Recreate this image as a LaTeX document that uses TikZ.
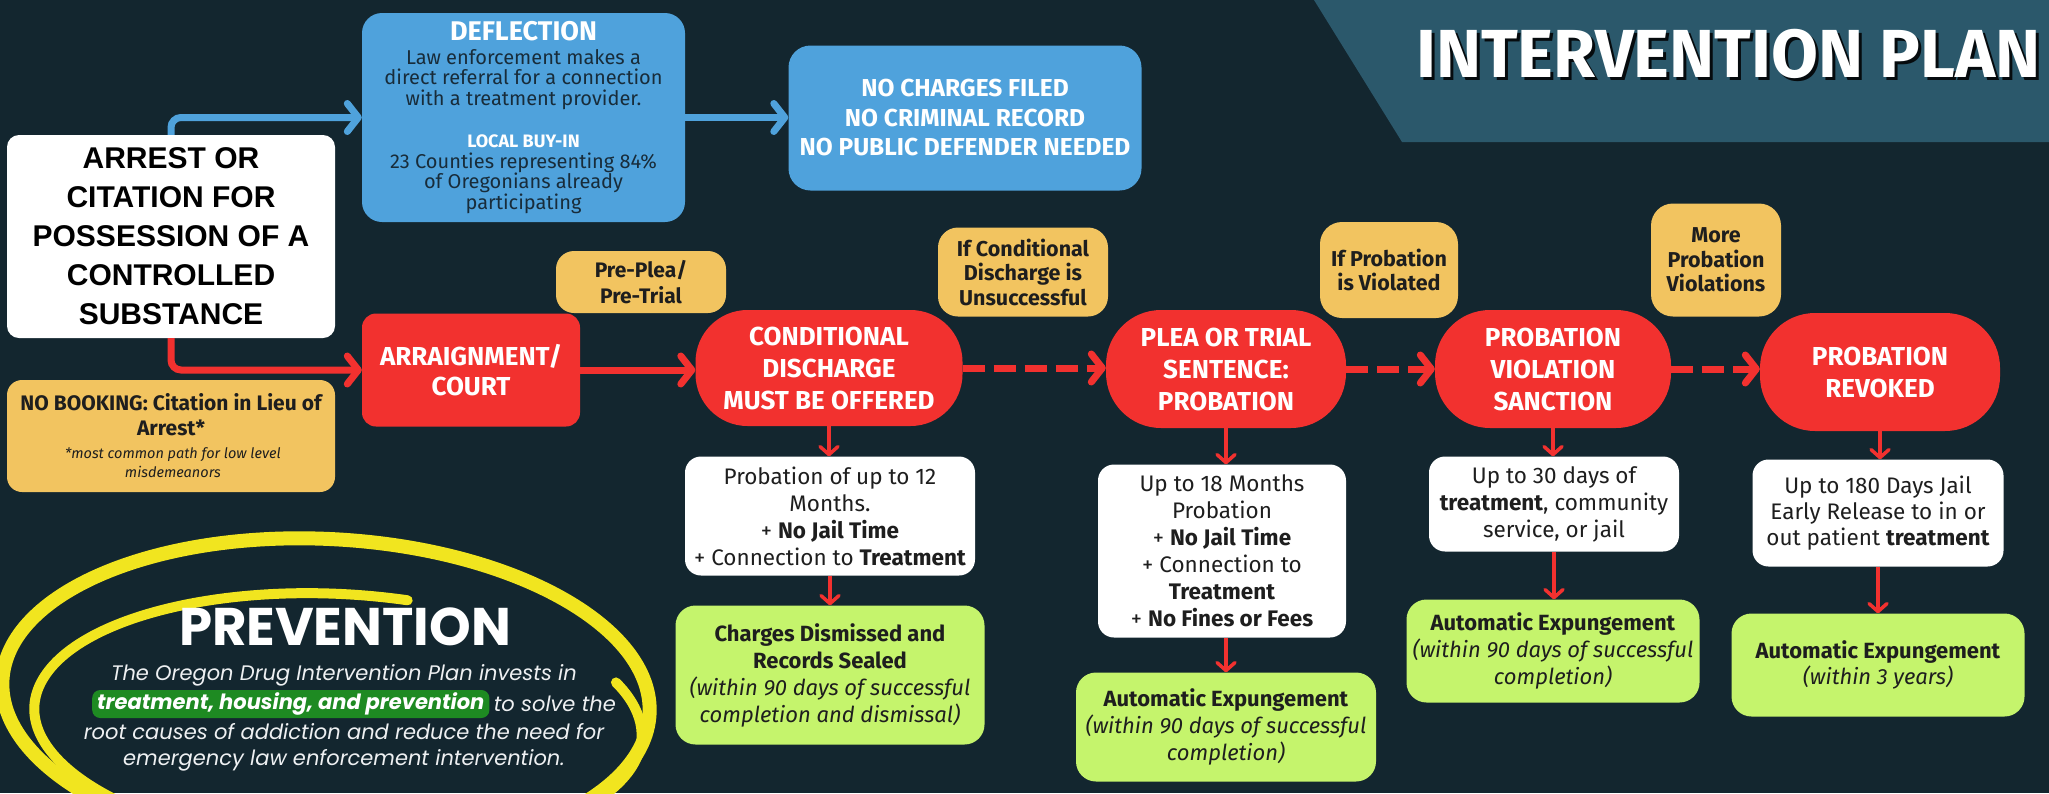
\documentclass[tikz,border=0pt]{standalone}
\usepackage{fontspec}
\setmainfont{Fira Sans}
\newfontfamily\popfont{Poppins}
\newfontfamily\arialfont{Liberation Sans}
\usetikzlibrary{arrows.meta,calc}
\definecolor{bg}{HTML}{13262F}
\definecolor{banner}{HTML}{2B586B}
\definecolor{bluebox}{HTML}{4FA2DC}
\definecolor{redbox}{HTML}{F2312F}
\definecolor{yelbox}{HTML}{F2C460}
\definecolor{grnbox}{HTML}{C5F46C}
\definecolor{hlgreen}{HTML}{1E8A22}
\definecolor{ringyel}{HTML}{F1E51F}
\definecolor{darktext}{HTML}{1E1E1E}
\definecolor{bluetext}{HTML}{182C3A}
\definecolor{lighttext}{HTML}{EEF0F2}
\newcommand\fsz[2]{\fontsize{#1}{#2}\selectfont}
\begin{document}
\begin{tikzpicture}[x=1pt,y=-1pt,
  box/.style={inner sep=0pt, align=center, anchor=center},
  whitebox/.style={box, fill=white, rounded corners=16pt, text=darktext, font=\fsz{22.5}{27}},
  greenbox/.style={box, fill=grnbox, rounded corners=20pt, text=darktext, font=\fsz{22}{27}},
  yellowbox/.style={box, fill=yelbox, rounded corners=20pt, text=darktext, font=\bfseries\fsz{21.5}{24.5}},
  redbox/.style={box, fill=redbox, text=white, font=\bfseries\fsz{26}{32}},
  bluenode/.style={box, fill=bluebox, rounded corners=20pt},
  bluearrow/.style={draw=bluebox, line width=7pt, rounded corners=10pt, -{Straight Barb[length=11pt,width=28pt,round]}},
  redarrow/.style={draw=redbox, line width=7pt, rounded corners=10pt, -{Straight Barb[length=11pt,width=28pt,round]}},
  reddash/.style={redarrow, dash pattern=on 22pt off 9pt},
  redsmall/.style={draw=redbox, line width=3.5pt, -{Straight Barb[length=8pt,width=18pt,round]}},
  ring/.style={draw=ringyel, line cap=round}
]
\fill[bg] (0,0) rectangle (2049,793);
\useasboundingbox (0,0) rectangle (2049,793);

% banner
\fill[banner] (1314,0) -- (2049,0) -- (2049,142) -- (1402,142) -- cycle;
\node[inner sep=0pt, anchor=west, text=black!70!bg, font=\bfseries\fsz{68}{72}] (titleshadow) at (1419,57) {INTERVENTION PLAN};
\node[inner sep=0pt, anchor=west, text=white, font=\bfseries\fsz{68}{72}] (title) at (1416,54) {INTERVENTION PLAN};

% prevention ring
\draw[ring, line width=14pt, rotate around={-3:(326,697)}] (326,697) ellipse [x radius=324, y radius=158];
\draw[ring, line width=10pt, rotate around={-3:(338,722)}] (338,722) ++(282:304 and 128) arc[start angle=282, end angle=-25, x radius=304, y radius=128];

% left column
\node[box, fill=white, rounded corners=12pt, minimum width=328pt, minimum height=203pt,
      text=black, font=\arialfont\bfseries\fsz{30}{39}] (arrest) at (171,236.5)
  {ARREST OR\\CITATION FOR\\POSSESSION OF A\\CONTROLLED\\SUBSTANCE};

\node[box, fill=yelbox, rounded corners=15pt, minimum width=328pt, minimum height=112pt,
      text=darktext, font=\bfseries\fsz{21}{25}] (nobook) at (171,436)
  {NO BOOKING: Citation in Lieu of\\ Arrest*\\[-2pt]
   \mdseries\itshape\fsz{14.5}{19} *most common path for low level\\[-6pt]
   \mdseries\itshape\fsz{14.5}{19} misdemeanors};

% deflection
\node[bluenode, minimum width=323pt, minimum height=209pt, text=bluetext, font=\fsz{20}{20.7}] (defl) at (523.5,117.5)
  {\textcolor{white}{\bfseries\fsz{27}{24}DEFLECTION}\\[3pt]
   Law enforcement makes a\\
   direct referral for a connection\\
   with a treatment provider.\\[21pt]
   \textcolor{white}{\bfseries\fsz{18}{20}LOCAL BUY-IN}\\
   23 Counties representing 84\%\\
   of Oregonians already\\
   participating};

\node[bluenode, rounded corners=22pt, minimum width=353pt, minimum height=145pt, text=white, font=\bfseries\fsz{24.5}{29.5}] (noch) at (965,118)
  {NO CHARGES FILED\\NO CRIMINAL RECORD\\NO PUBLIC DEFENDER NEEDED};

% yellow condition labels
\node[yellowbox, minimum width=170pt, minimum height=62pt, rounded corners=18pt, font=\bfseries\fsz{21}{26}] (preplea) at (641,282) {Pre-Plea/\\Pre-Trial};
\node[yellowbox, minimum width=170pt, minimum height=89pt] (ifcd) at (1023,272) {If Conditional\\Discharge is\\Unsuccessful};
\node[yellowbox, minimum width=138pt, minimum height=96pt, rounded corners=22pt] (ifpv) at (1389,270) {If Probation\\is Violated};
\node[yellowbox, minimum width=130pt, minimum height=113pt, rounded corners=22pt] (morepv) at (1716,260) {More\\Probation\\Violations};

% red stages
\node[redbox, rounded corners=14pt, minimum width=218pt, minimum height=113pt, font=\bfseries\fsz{26}{30}] (arr) at (471,370) {ARRAIGNMENT/\\COURT};
\node[redbox, rounded corners=52pt, minimum width=267pt, minimum height=116pt] (cd) at (829,368) {CONDITIONAL\\DISCHARGE\\MUST BE OFFERED};
\node[redbox, rounded corners=55pt, minimum width=240pt, minimum height=118pt] (plea) at (1226,369) {PLEA OR TRIAL\\SENTENCE:\\PROBATION};
\node[redbox, rounded corners=55pt, minimum width=236pt, minimum height=118pt] (pvs) at (1553,369) {PROBATION\\VIOLATION\\SANCTION};
\node[redbox, rounded corners=55pt, minimum width=240pt, minimum height=118pt] (pr) at (1880,372) {PROBATION\\REVOKED};

% white detail boxes
\node[whitebox, minimum width=290pt, minimum height=119pt] (cdw) at (830,516)
  {Probation of up to 12\\Months.\\+ \textbf{No Jail Time}\\+ Connection to \textbf{Treatment}};
\node[whitebox, minimum width=248pt, minimum height=173pt] (pleaw) at (1222,551)
  {Up to 18 Months\\Probation\\+ \textbf{No Jail Time}\\+ Connection to\\\textbf{Treatment}\\+ \textbf{No Fines or Fees}};
\node[whitebox, minimum width=250pt, minimum height=95pt] (pvsw) at (1554,504)
  {Up to 30 days of\\\textbf{treatment}, community\\service, or jail};
\node[whitebox, minimum width=251pt, minimum height=107pt, font=\fsz{22.5}{26}] (prw) at (1878,513)
  {Up to 180 Days Jail\\Early Release to in or\\out patient \textbf{treatment}};

% green outcome boxes
\node[greenbox, minimum width=309pt, minimum height=139pt] (cdg) at (830,675)
  {\textbf{Charges Dismissed and}\\\textbf{Records Sealed}\\\textit{(within 90 days of successful}\\\textit{completion and dismissal)}};
\node[greenbox, minimum width=300pt, minimum height=109pt] (pleag) at (1226,727)
  {\textbf{Automatic Expungement}\\\textit{(within 90 days of successful}\\\textit{completion)}};
\node[greenbox, minimum width=293pt, minimum height=103pt] (pvsg) at (1553,651)
  {\textbf{Automatic Expungement}\\\textit{(within 90 days of successful}\\\textit{completion)}};
\node[greenbox, minimum width=293pt, minimum height=103pt, font=\fsz{22}{26}] (prg) at (1878,665)
  {\textbf{Automatic Expungement}\\\textit{(within 3 years)}};

% prevention text
\node[inner sep=0pt, text=white, font=\popfont\bfseries\fsz{53}{56}] (prevtitle) at (345,627) {PREVENTION};
\node[inner sep=0pt, text=lighttext, font=\popfont\itshape\fsz{21}{24}] (prev1) at (344,675) {The Oregon Drug Intervention Plan invests in};
\node[anchor=west, fill=hlgreen, rounded corners=8pt, inner xsep=5pt, inner ysep=0pt, minimum height=28pt, text=white, font=\popfont\bfseries\itshape\fsz{21}{24}] (prev2a) at (92,704) {treatment, housing, and prevention};
\node[anchor=west, inner xsep=4pt, inner ysep=0pt, text=lighttext, font=\popfont\itshape\fsz{21}{24}] (prev2b) at (prev2a.east) {to solve the};
\node[inner sep=0pt, text=lighttext, font=\popfont\itshape\fsz{21}{24}] (prev3) at (344,732) {root causes of addiction and reduce the need for};
\node[inner sep=0pt, text=lighttext, font=\popfont\itshape\fsz{21}{24}] (prev4) at (344,760) {emergency law enforcement intervention.};

% connectors
\draw[bluearrow] (arrest.north) |- (defl.west);
\draw[bluearrow] (defl.east) -- (defl.east -| noch.west);
\draw[redarrow] (arrest.south) |- (arr.west);
\draw[redarrow] (arr.east) -- (arr.east -| cd.west);
\draw[reddash] (cd.east) -- (cd.east -| plea.west);
\draw[reddash] (plea.east) -- (plea.east -| pvs.west);
\draw[reddash] (pvs.east) -- (pvs.east -| pr.west);

\draw[redsmall] (cd.south) -- (cd.south |- cdw.north);
\draw[redsmall] (cdw.south) -- (cdw.south |- cdg.north);
\draw[redsmall] (plea.south) -- (plea.south |- pleaw.north);
\draw[redsmall] (plea.south |- pleaw.south) -- (plea.south |- pleag.north);
\draw[redsmall] (pvs.south) -- (pvs.south |- pvsw.north);
\draw[redsmall] (pvsw.south) -- (pvsw.south |- pvsg.north);
\draw[redsmall] (pr.south) -- (pr.south |- prw.north);
\draw[redsmall] (prw.south) -- (prw.south |- prg.north);
\end{tikzpicture}
\end{document}
